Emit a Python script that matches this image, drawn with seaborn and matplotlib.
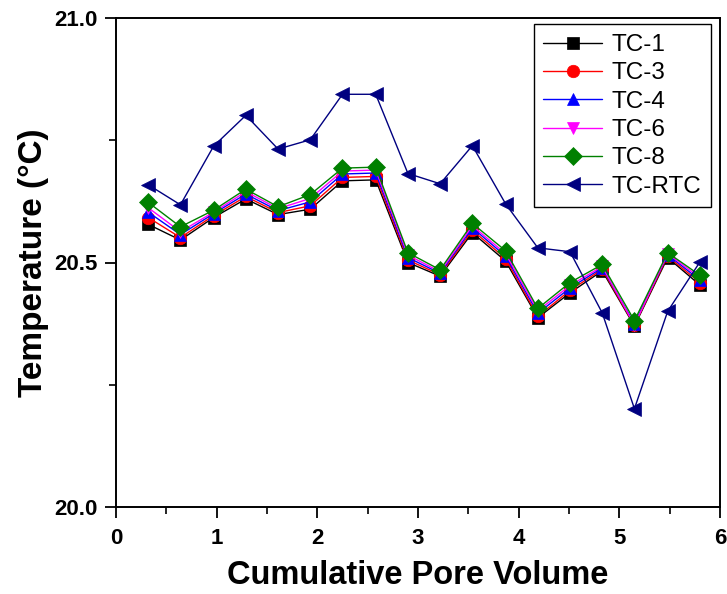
import matplotlib
matplotlib.use("Agg")
import matplotlib.pyplot as plt
import seaborn as sns
import pandas as pd
from matplotlib.ticker import MultipleLocator

pore_volume = [0.32, 0.64, 0.97, 1.29, 1.61, 1.93, 2.25, 2.58, 2.90,
               3.22, 3.54, 3.87, 4.19, 4.51, 4.83, 5.15, 5.48, 5.80]
tc1 = [20.578, 20.546, 20.592, 20.630, 20.598, 20.609, 20.667, 20.669, 20.500,
       20.472, 20.561, 20.503, 20.387, 20.438, 20.483, 20.370, 20.510, 20.454]
tc3 = [20.592, 20.551, 20.596, 20.635, 20.602, 20.616, 20.674, 20.676, 20.505,
       20.475, 20.566, 20.508, 20.390, 20.443, 20.486, 20.372, 20.513, 20.459]
tc4 = [20.603, 20.557, 20.600, 20.640, 20.606, 20.624, 20.681, 20.683, 20.510,
       20.478, 20.571, 20.513, 20.396, 20.448, 20.489, 20.375, 20.516, 20.464]
tc6 = [20.612, 20.563, 20.603, 20.645, 20.610, 20.631, 20.687, 20.689, 20.515,
       20.481, 20.575, 20.518, 20.401, 20.453, 20.492, 20.372, 20.518, 20.469]
tc8 = [20.623, 20.573, 20.607, 20.650, 20.614, 20.639, 20.693, 20.695, 20.520,
       20.485, 20.580, 20.524, 20.406, 20.459, 20.496, 20.381, 20.520, 20.474]
tc_rtc = [20.659, 20.618, 20.738, 20.801, 20.732, 20.751, 20.844, 20.844, 20.682,
          20.661, 20.739, 20.620, 20.530, 20.522, 20.397, 20.201, 20.400, 20.501]

series_names = ["TC-1", "TC-3", "TC-4", "TC-6", "TC-8", "TC-RTC"]
series_values = [tc1, tc3, tc4, tc6, tc8, tc_rtc]
colors = ["#000000", "#ff0000", "#0000ff", "#ff00ff", "#008000", "#000080"]
markers = ["s", "o", "^", "v", "D", "<"]
msizes = [8, 9, 9, 9, 9, 10.5]

sns.set_style("white")
plt.rcParams['font.family'] = ['Liberation Sans', 'DejaVu Sans']
plt.rcParams['text.color'] = 'black'
plt.rcParams['axes.labelcolor'] = 'black'
plt.rcParams['xtick.color'] = 'black'
plt.rcParams['ytick.color'] = 'black'

fig = plt.figure(figsize=(7.27, 5.94), dpi=100)
ax = fig.add_axes([116/727, 1-507/594, (720-116)/727, (507-18)/594])

for name, vals, c, m, ms in zip(series_names, series_values, colors, markers, msizes):
    df = pd.DataFrame({"x": pore_volume, "y": vals})
    sns.lineplot(data=df, x="x", y="y", ax=ax, color=c, marker=m,
                 markersize=ms, markeredgecolor=c, markeredgewidth=0.5,
                 linewidth=1.0, label=name)

ax.set_xlim(0, 6)
ax.set_ylim(20.0, 21.0)
ax.xaxis.set_major_locator(MultipleLocator(1))
ax.xaxis.set_minor_locator(MultipleLocator(0.5))
ax.yaxis.set_major_locator(MultipleLocator(0.5))
ax.yaxis.set_minor_locator(MultipleLocator(0.25))
ax.set_yticks([20.0, 20.5, 21.0])
ax.set_yticklabels(["20.0", "20.5", "21.0"])

ax.tick_params(axis="both", which="major", direction="out", length=8, width=1.3,
               labelsize=16, pad=5, bottom=True, left=True, labelcolor="black")
ax.tick_params(axis="x", which="major", pad=7)
ax.tick_params(axis="both", which="minor", direction="out", length=5, width=1.2,
               bottom=True, left=True)
for lab in ax.get_xticklabels() + ax.get_yticklabels():
    lab.set_fontweight("bold")

for sp in ax.spines.values():
    sp.set_linewidth(1.4)
    sp.set_color("black")

ax.set_xlabel("Cumulative Pore Volume", fontsize=23.5, fontweight="bold", labelpad=8)
ax.set_ylabel("Temperature (°C)", fontsize=24, fontweight="bold", labelpad=4)

leg = ax.legend(loc="upper right", bbox_to_anchor=(0.993, 0.997), fontsize=17.5,
                frameon=True, fancybox=False, edgecolor="black", framealpha=1,
                handlelength=2.4, labelspacing=0.26, borderpad=0.4,
                handletextpad=0.4, borderaxespad=0.2)
leg.get_frame().set_linewidth(1.0)
for t in leg.get_texts():
    t.set_color("black")

fig.savefig("out.png", dpi=100)
